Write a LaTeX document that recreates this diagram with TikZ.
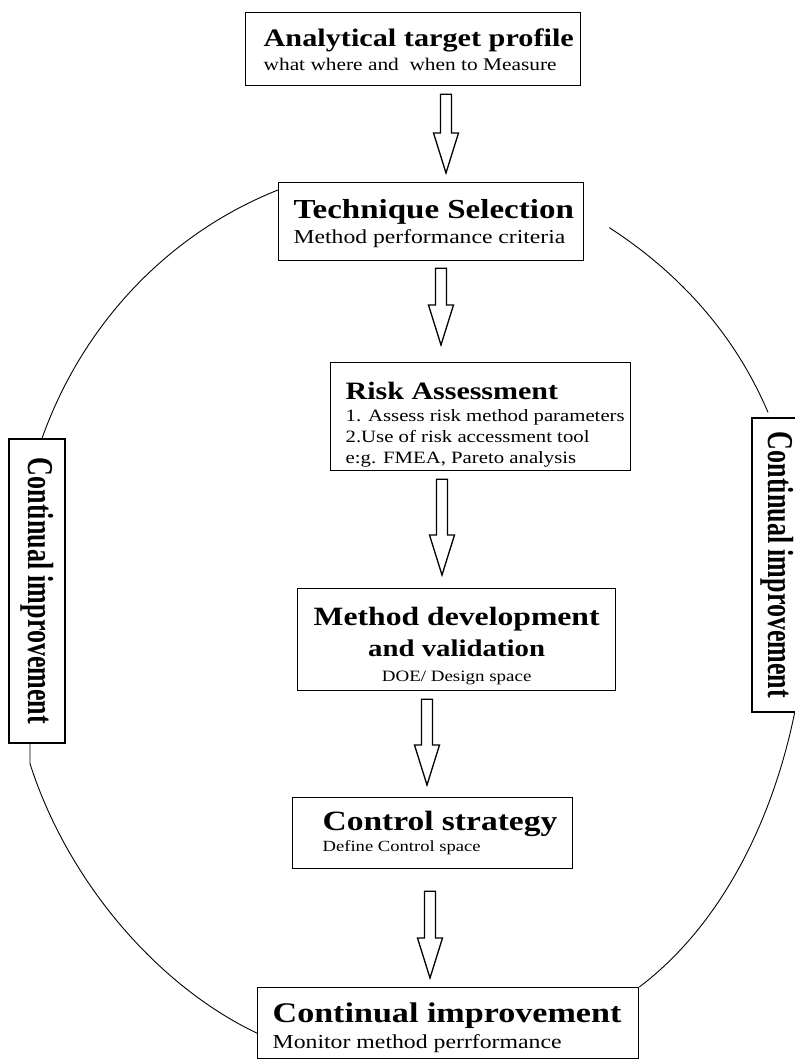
\documentclass[tikz,border=0pt]{standalone}
\usepackage{fontspec}
\setmainfont{Liberation Serif}[FakeStretch=1.2]
\newfontfamily\plainserif{Liberation Serif}
\usepackage{graphicx}
\usetikzlibrary{calc}

\newcommand{\stagebody}[5]{\parbox[t][#2][t]{#1}{\setlength{\leftskip}{#3}\vspace*{#4}#5}}
\newcommand{\stagehead}[3]{{\fontsize{#1pt}{#2pt}\selectfont\bfseries\mbox{#3}\par}}
\newcommand{\stagenote}[3]{{\fontsize{#1pt}{#2pt}\selectfont\mbox{#3}\par}}
\newcommand{\sidetext}[1]{\rotatebox{-90}{\scalebox{1}[1.4]{\plainserif\bfseries\fontsize{26pt}{30pt}\selectfont #1}}}
\newcommand{\blockarrow}[5]{%
  \draw[hollow] let \p1=(#1.south), \p2=(#2.north) in
    ({#3pt-5.5pt},{\y1-#4pt}) -- ({#3pt+5.5pt},{\y1-#4pt})
    -- ({#3pt+5.5pt},{\y2+#5pt+40pt}) -- ({#3pt+12.5pt},{\y2+#5pt+40pt})
    -- ({#3pt},{\y2+#5pt}) -- ({#3pt-12.5pt},{\y2+#5pt+40pt})
    -- ({#3pt-5.5pt},{\y2+#5pt+40pt}) -- cycle;}

\tikzset{
  stage/.style={draw, line width=1.3pt, inner sep=0pt, anchor=north west},
  side/.style={draw, line width=1.3pt, inner sep=0pt},
  hollow/.style={line width=1.3pt, line join=miter},
  ring/.style={line width=0.9pt}
}

\begin{document}
\begin{tikzpicture}[x=1pt,y=-1pt]
\useasboundingbox (0,0) rectangle (795,1061);

\node[stage] (atp) at (245,12) {\stagebody{335pt}{73pt}{18pt}{16pt}{%
  \stagehead{25.2}{30}{Analytical target profile}
  \stagenote{17.8}{24}{what where and\ \ when to Measure}}};
\node[stage] (tech) at (278,182) {\stagebody{305pt}{78pt}{15pt}{16.5pt}{%
  \stagehead{27.5}{32}{Technique Selection}
  \stagenote{19.7}{25}{Method performance criteria}}};
\node[stage] (risk) at (330,362) {\stagebody{300pt}{108pt}{15pt}{19.5pt}{%
  \stagehead{25}{30}{Risk Assessment}
  \stagenote{17.3}{22}{1. Assess risk method parameters}
  \stagenote{17.3}{21}{2.Use of risk accessment tool}
  \stagenote{17.3}{21}{e:g. FMEA, Pareto analysis}}};
\node[stage] (mdv) at (297,588) {\stagebody{318pt}{102pt}{0pt}{18.5pt}{\centering
  \stagehead{26.4}{31}{Method development}
  \stagehead{24}{31}{and validation}
  \stagenote{15.8}{25}{DOE/ Design space}}};
\node[stage] (ctrl) at (292,797) {\stagebody{280pt}{71pt}{30pt}{13.5pt}{%
  \stagehead{27.9}{32}{Control strategy}
  \stagenote{15.5}{21}{Define Control space}}};
\node[stage] (cimp) at (257,987) {\stagebody{381pt}{71pt}{15pt}{15.5pt}{%
  \stagehead{28.4}{33}{Continual improvement}
  \stagenote{19.8}{26}{Monitor method perrformance}}};

\node[side, minimum width=56pt, minimum height=304pt] (cileft) at (37,591) {\sidetext{Continual improvement}};
\node[side, minimum width=50pt, minimum height=294pt] (ciright) at (777,565) {\sidetext{Continual improvement}};

\blockarrow{atp}{tech}{446}{8}{9}
\blockarrow{tech}{risk}{441}{7}{17}
\blockarrow{risk}{mdv}{442}{8}{13}
\blockarrow{mdv}{ctrl}{427}{8}{12}
\blockarrow{ctrl}{cimp}{430}{22}{9}

\draw[ring] ($(tech.north west)+(0,8)$) .. controls +(-106,42) and +(42,-118) .. ($(cileft.north)+(5,0)$);
\draw[ring] ($(cileft.south)+(-7,0)$) -- ++(0,20) .. controls +(37,116) and +(-101,-48) .. ($(cimp.west)+(0,10)$);
\draw[ring] ($(tech.east)+(25,6)$) .. controls +(68,44) and +(-34,-80) .. ($(ciright.north)+(-9,-5)$);
\draw[ring] ($(ciright.south east)+(-8,0)$) .. controls +(-22,108) and +(82,-62) .. (cimp.north east);
\end{tikzpicture}
\end{document}
